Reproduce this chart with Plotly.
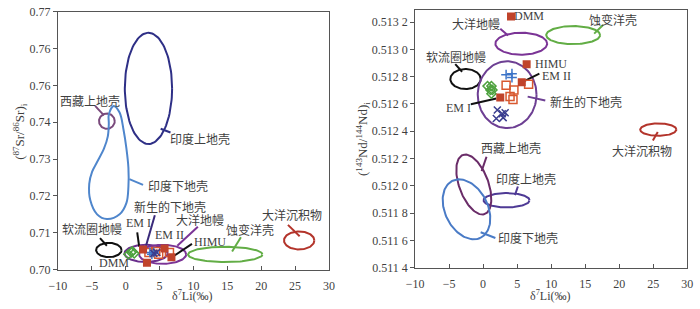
import numpy as np
import plotly.graph_objects as go

# ---------------- data ----------------
x_tickvals = [-10, -5, 0, 5, 10, 15, 20, 25, 30]
x_ticktext = ["−10", "−5", "0", "5", "10", "15", "20", "25", "30"]
sr_tickvals = [0.70, 0.71, 0.72, 0.73, 0.74, 0.75, 0.76, 0.77]
sr_ticktext = ["0.70", "0.71", "0.72", "0.73", "0.74", "0.76", "0.76", "0.77"]
nd_tickvals = [0.5114, 0.5116, 0.5118, 0.5120, 0.5122, 0.5124, 0.5126, 0.5128, 0.5130, 0.5132]
nd_ticktext = ["0.511 4", "0.511 6", "0.511 8", "0.512 0", "0.512 2",
               "0.512 4", "0.512 6", "0.512 8", "0.513 0", "0.513 2"]

# Sr panel fields (ellipses): centre and two semi-axis vectors (data units)
sr_field_names = ["印度上地壳", "西藏上地壳", "软流圈地幔", "新生的下地壳", "大洋地幔", "蚀变洋壳", "大洋沉积物"]
sr_field_cx = [3.36, -2.78, -2.49, 3.00, 5.45, 14.69, 25.60]
sr_field_cy = [0.7492, 0.7403, 0.7053, 0.70439, 0.70413, 0.7041, 0.7079]
sr_field_ux = [3.49, 1.16, 1.88, 3.18, 3.47, 5.49, 2.24]
sr_field_uy = [0.0, 0.0, 0.0, 0.0, 0.0, 0.0, 0.0]
sr_field_vx = [0.0, 0.0, 0.0, 0.0, 0.0, 0.0, 0.0]
sr_field_vy = [0.0151, 0.00207, 0.00194, 0.00233, 0.00258, 0.00207, 0.00245]

# Sr panel: 印度下地壳 outline
sr_ilc_x = [-1.77, -0.90, -0.32, 0.11, 0.40, 0.40, 0.11, -0.90, -2.78, -4.22, -5.23,
            -5.38, -4.95, -4.22, -3.21, -2.64, -2.49, -2.49, -1.77]
sr_ilc_y = [0.74444, 0.74264, 0.73798, 0.73282, 0.72765, 0.72248, 0.71809, 0.71499,
            0.71370, 0.71499, 0.71886, 0.72326, 0.72661, 0.72920, 0.73282, 0.73618,
            0.73953, 0.74212, 0.74444]

# Sr panel points
sr_end_x = [2.56, 5.74, 6.75, 3.14]            # EM I, EM II, HIMU, DMM
sr_end_y = [0.70543, 0.70568, 0.70336, 0.70181]
sr_sq_x = [3.43, 4.44, 4.87, 6.46]
sr_sq_y = [0.70465, 0.70491, 0.70413, 0.70465]
sr_plus_x = [3.57, 4.15, 3.86]
sr_plus_y = [0.70465, 0.70465, 0.70413]
sr_cross_x = [4.15, 4.58]
sr_cross_y = [0.70439, 0.70465]
sr_dia_x = [0.40, 0.83, 1.26, 0.97]
sr_dia_y = [0.70413, 0.70465, 0.70439, 0.70491]

# Nd panel fields
nd_field_names = ["大洋地幔", "蚀变洋壳", "软流圈地幔", "新生的下地壳", "大洋沉积物",
                  "印度上地壳", "西藏上地壳", "印度下地壳"]
nd_field_cx = [5.61, 13.24, -2.59, 3.53, 25.76, 3.45, -1.37, -2.446]
nd_field_cy = [0.513042, 0.513105, 0.512783, 0.512668, 0.512412, 0.511894, 0.5120095, 0.5118274]
nd_field_ux = [3.81, 3.96, 2.23, 4.32, 2.66, 3.38, -1.583, 2.014]
nd_field_uy = [0.0, 0.0, 0.0, 0.0, 0.0, 0.0, 0.000217, -0.000210]
nd_field_vx = [0.0, 0.0, 0.0, 0.0, 0.0, 0.0, 2.029, 2.863]
nd_field_vy = [0.0000805, 0.0000665, 0.0000735, 0.000245, 0.0000455, 0.0000525, 0.000035, 0.0000651]

nd_end_x = [4.10, 6.40, 5.68, 2.52]            # DMM, HIMU, EM II, EM I
nd_end_y = [0.513242, 0.512892, 0.512759, 0.512647]
nd_sq_x = [3.38, 4.53, 6.69, 3.96, 4.39]
nd_sq_y = [0.512738, 0.512703, 0.512745, 0.512654, 0.512633]
nd_plus_x = [3.38, 4.24, 4.24]
nd_plus_y = [0.512815, 0.512822, 0.512794]
nd_dia_x = [0.65, 1.22, 1.08, 1.37, 1.22]
nd_dia_y = [0.512731, 0.512731, 0.512703, 0.512703, 0.512675]
nd_cross_x = [2.09, 2.81, 3.24, 1.94, 2.95]
nd_cross_y = [0.512556, 0.512528, 0.512535, 0.512493, 0.512500]

# labels (text, x, y) and leader lines (x0, y0, x1, y1)
sr_labels = [("印度上地壳", 10.9, 0.73566), ("西藏上地壳", -5.23, 0.74600), ("印度下地壳", 7.76, 0.72274),
             ("软流圈地幔", -4.95, 0.71111), ("DMM", -1.77, 0.70181), ("EM I", 1.84, 0.71266),
             ("新生的下地壳", 6.61, 0.71705), ("大洋地幔", 10.94, 0.71370), ("EM II", 6.46, 0.70930),
             ("HIMU", 12.38, 0.70749), ("蚀变洋壳", 18.30, 0.71085), ("大洋沉积物", 24.51, 0.71499)]
sr_leaders = [(5.16, 0.73824, 6.61, 0.73721), (-4.51, 0.74444, -3.21, 0.74186),
              (0.54, 0.72455, 2.56, 0.72300), (-3.79, 0.70853, -2.78, 0.70646),
              (1.70, 0.71008, 1.99, 0.70620), (4.30, 0.71473, 3.00, 0.70646),
              (10.65, 0.71163, 7.62, 0.70646), (9.78, 0.70698, 7.04, 0.70362),
              (17.00, 0.70879, 15.70, 0.70491), (23.94, 0.71214, 25.67, 0.70904)]
nd_labels = [("DMM", 6.55, 0.513242), ("大洋地幔", -1.08, 0.513193), ("蚀变洋壳", 19.07, 0.513221),
             ("软流圈地幔", -3.96, 0.512948), ("HIMU", 9.57, 0.512892), ("EM II", 10.72, 0.512808),
             ("EM I", -3.67, 0.512570), ("新生的下地壳", 15.18, 0.512619), ("大洋沉积物", 23.38, 0.512262),
             ("西藏上地壳", 4.10, 0.512283), ("印度上地壳", 6.26, 0.512052), ("印度下地壳", 6.55, 0.511624)]
nd_leaders = [(2.52, 0.513151, 3.67, 0.513102), (17.63, 0.513179, 16.33, 0.513116),
              (-4.10, 0.512892, -3.09, 0.512836), (5.68, 0.512759, 8.27, 0.512822),
              (-1.80, 0.512598, 1.94, 0.512640), (6.55, 0.512654, 9.14, 0.512626),
              (25.68, 0.512395, 24.96, 0.512332), (0.50, 0.512213, -0.22, 0.512108),
              (5.11, 0.511995, 4.68, 0.511932), (-0.36, 0.511659, 1.80, 0.511617)]

# ---------------- styles ----------------
C = {"印度上地壳": "#2e2f86", "西藏上地壳": "#7a4a7c", "软流圈地幔": "#111111",
     "新生的下地壳": "#6a2e8c", "大洋地幔": "#7b3496", "蚀变洋壳": "#62ad45",
     "大洋沉积物": "#b3342b", "印度下地壳": "#4f86cc"}
C_nd = dict(C)
C_nd.update({"印度上地壳": "#4e3a95", "西藏上地壳": "#6a2c68", "新生的下地壳": "#6d3f93",
             "印度下地壳": "#4a7bc6"})
sr_leader_colors = [C["印度上地壳"], C["西藏上地壳"], C["印度下地壳"], "#111111", "#111111",
                    "#3a2a7a", C["大洋地幔"], "#111111", C["蚀变洋壳"], C["大洋沉积物"]]
nd_leader_colors = [C_nd["大洋地幔"], C["蚀变洋壳"], "#111111", "#111111", "#111111",
                    C_nd["新生的下地壳"], C["大洋沉积物"], C_nd["西藏上地壳"], C_nd["印度上地壳"],
                    C_nd["印度下地壳"]]
RED = "#c0432b"
RED_OPEN = "#d8582f"
BLUE = "#3c74c8"
NAVY = "#3a3d8f"
GREEN = "#4ea23f"
SERIF = "Liberation Serif"
CJK = "Noto Sans CJK SC"
TXT = "#3f3f3f"

fig = go.Figure()
t = np.linspace(0, 2 * np.pi, 121)


def add_field(cx, cy, ux, uy, vx, vy, color, xa, ya):
    xs = cx + ux * np.cos(t) + vx * np.sin(t)
    ys = cy + uy * np.cos(t) + vy * np.sin(t)
    fig.add_trace(go.Scatter(x=xs, y=ys, mode="lines", line=dict(color=color, width=2),
                             xaxis=xa, yaxis=ya, hoverinfo="skip", showlegend=False))


for i, n in enumerate(sr_field_names):
    add_field(sr_field_cx[i], sr_field_cy[i], sr_field_ux[i], sr_field_uy[i],
              sr_field_vx[i], sr_field_vy[i], C[n], "x", "y")
fig.add_trace(go.Scatter(x=sr_ilc_x, y=sr_ilc_y, mode="lines", line=dict(color=C["印度下地壳"], width=2, shape="spline"),
                         xaxis="x", yaxis="y", showlegend=False, hoverinfo="skip"))
for i, n in enumerate(nd_field_names):
    add_field(nd_field_cx[i], nd_field_cy[i], nd_field_ux[i], nd_field_uy[i],
              nd_field_vx[i], nd_field_vy[i], C_nd[n], "x2", "y2")

for (x0, y0, x1, y1), col in zip(sr_leaders, sr_leader_colors):
    fig.add_trace(go.Scatter(x=[x0, x1], y=[y0, y1], mode="lines", line=dict(color=col, width=2),
                             xaxis="x", yaxis="y", showlegend=False, hoverinfo="skip"))
for (x0, y0, x1, y1), col in zip(nd_leaders, nd_leader_colors):
    fig.add_trace(go.Scatter(x=[x0, x1], y=[y0, y1], mode="lines", line=dict(color=col, width=2),
                             xaxis="x2", yaxis="y2", showlegend=False, hoverinfo="skip"))


def add_points(xs, ys, symbol, color, size, xa, ya, lw=1.5):
    fig.add_trace(go.Scatter(x=xs, y=ys, mode="markers", xaxis=xa, yaxis=ya, showlegend=False,
                             marker=dict(symbol=symbol, color=color, size=size,
                                         line=dict(color=color, width=lw))))


for xa, ya, d in [("x", "y", (sr_dia_x, sr_dia_y, sr_sq_x, sr_sq_y, sr_plus_x, sr_plus_y, sr_cross_x, sr_cross_y, sr_end_x, sr_end_y)),
                  ("x2", "y2", (nd_dia_x, nd_dia_y, nd_sq_x, nd_sq_y, nd_plus_x, nd_plus_y, nd_cross_x, nd_cross_y, nd_end_x, nd_end_y))]:
    add_points(d[0], d[1], "diamond-open", GREEN, 7, xa, ya)
    add_points(d[2], d[3], "square-open", RED_OPEN, 8, xa, ya)
    add_points(d[4], d[5], "cross-thin", BLUE, 7, xa, ya)
    add_points(d[6], d[7], "x-thin", NAVY, 7, xa, ya)
    add_points(d[8], d[9], "square", RED, 8, xa, ya, lw=0)

annotations = []
for txt, x, y in sr_labels:
    annotations.append(dict(x=x, y=y, xref="x", yref="y", text=txt, showarrow=False,
                            xanchor="center", yanchor="middle",
                            font=dict(family=CJK if ord(txt[0]) > 255 else SERIF, size=12, color=TXT)))
for txt, x, y in nd_labels:
    xanchor = "left" if txt in ("DMM", "HIMU") else "center"
    annotations.append(dict(x=x if xanchor == "center" else x - 2.3, y=y, xref="x2", yref="y2", text=txt,
                            showarrow=False, xanchor=xanchor, yanchor="middle",
                            font=dict(family=CJK if ord(txt[0]) > 255 else SERIF, size=12, color=TXT)))
# axis titles
annotations += [
    dict(x=188 / 700, y=0.0, xref="paper", yref="paper", text="δ<sup>7</sup>Li(‰)", showarrow=False,
         xanchor="center", yanchor="bottom", yshift=-2, borderpad=0,
         font=dict(family=SERIF, size=12, color=TXT)),
    dict(x=553 / 700, y=0.0, xref="paper", yref="paper", text="δ<sup>7</sup>Li(‰)", showarrow=False,
         xanchor="center", yanchor="bottom", yshift=-2, borderpad=0,
         font=dict(family=SERIF, size=12, color=TXT)),
    dict(x=11 / 700, y=1 - 130 / 309, xref="paper", yref="paper", text="(<sup>87</sup>Sr/<sup>86</sup>Sr)<sub>i</sub>",
         textangle=-90, showarrow=False, xanchor="center", yanchor="middle",
         font=dict(family=SERIF, size=13, color=TXT)),
    dict(x=361 / 700, y=1 - 138 / 309, xref="paper", yref="paper",
         text="(<sup>143</sup>Nd/<sup>144</sup>Nd)<sub>i</sub>",
         textangle=-90, showarrow=False, xanchor="center", yanchor="middle",
         font=dict(family=SERIF, size=13, color=TXT)),
]

axis_common = dict(showline=True, linecolor="#555555", linewidth=1, mirror=True, showgrid=False,
                   zeroline=False, tickfont=dict(family=SERIF, size=12, color=TXT),
                   tickcolor="#555555", ticklen=4, ticklabeloverflow="allow")
fig.update_layout(
    width=700, height=309, margin=dict(l=0, r=0, t=0, b=0),
    paper_bgcolor="white", plot_bgcolor="white", showlegend=False,
    xaxis=dict(domain=[50 / 700, 327 / 700], range=[-10, 30], tickvals=x_tickvals, ticktext=x_ticktext,
               ticks="inside", anchor="y", ticklabelstandoff=5, **axis_common),
    yaxis=dict(domain=[1 - 275 / 309, 1 - 5 / 309], range=[0.70, 0.77001], tickvals=sr_tickvals,
               ticktext=sr_ticktext, ticks="outside", anchor="x", **axis_common),
    xaxis2=dict(domain=[415 / 700, 693 / 700], range=[-10, 30], tickvals=x_tickvals, ticktext=x_ticktext,
                ticks="inside", anchor="y2", ticklabelstandoff=5, **axis_common),
    yaxis2=dict(domain=[1 - 273 / 309, 1 - 3 / 309], range=[0.5114, 0.51329], tickvals=nd_tickvals,
                ticktext=nd_ticktext, ticks="outside", anchor="x2", **axis_common),
    annotations=annotations,
)

fig.write_html("out.html", config={"displayModeBar": False},
               post_script="document.body.style.margin='0';")
